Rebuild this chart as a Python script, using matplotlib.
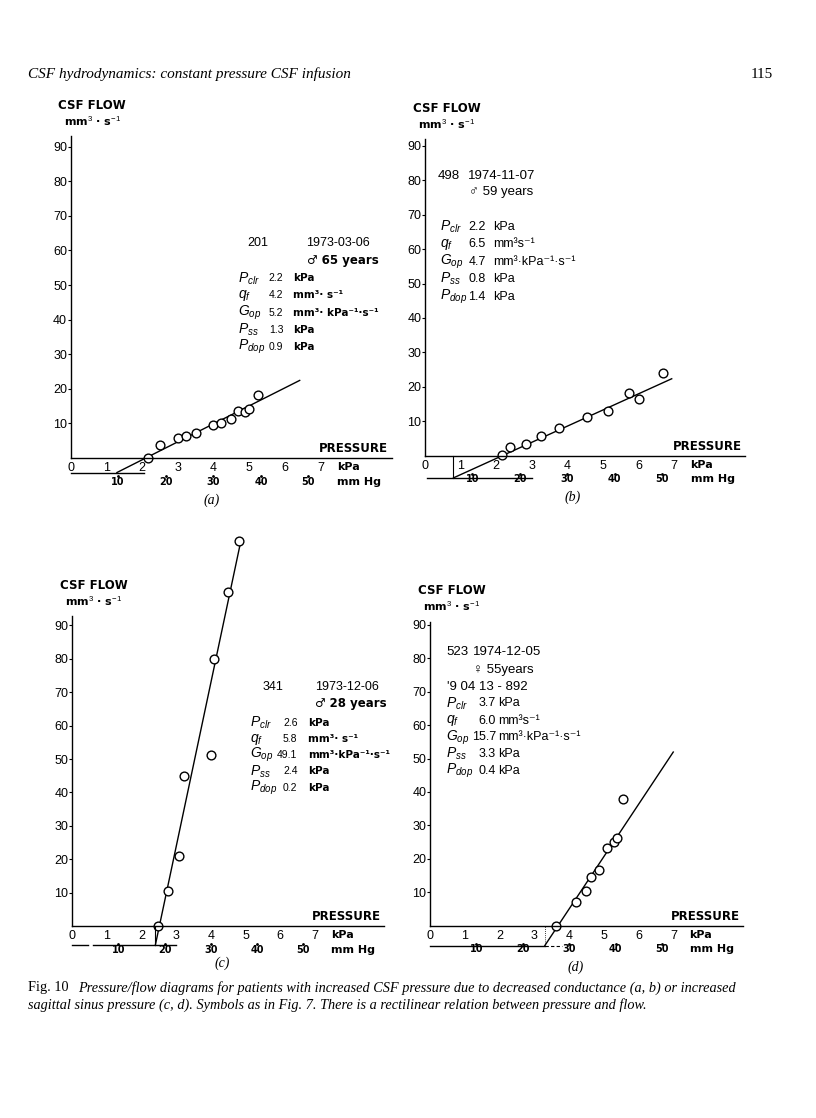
import matplotlib
matplotlib.use("Agg")
import matplotlib.pyplot as plt
from matplotlib import font_manager
from matplotlib.transforms import offset_copy

a_pressure = [2.16, 2.51, 3.0, 3.24, 3.52, 3.98, 4.22, 4.49, 4.7, 4.89, 4.99, 5.24]
a_flow = [0, 3.7, 5.9, 6.4, 7.3, 9.5, 10.2, 11.3, 13.6, 13.3, 14.3, 18.3]
b_pressure = [2.15, 2.39, 2.84, 3.26, 3.76, 4.54, 5.13, 5.72, 6.02, 6.69]
b_flow = [0.2, 2.4, 3.4, 5.8, 8.0, 11.2, 13.0, 18.2, 16.3, 23.9]
c_pressure = [2.49, 2.76, 3.09, 3.22, 4.0, 4.1, 4.5, 4.81]
c_flow = [0, 10.5, 21, 44.9, 51.1, 79.8, 100, 115.3]
d_pressure = [3.62, 4.2, 4.49, 4.63, 4.87, 5.08, 5.29, 5.38, 5.56]
d_flow = [0, 7.1, 10.2, 14.6, 16.6, 23.1, 24.9, 26.3, 38.0]

# parameters: Pclr, qf, Gop, Pss, Pdop
a_params = [2.2, 4.2, 5.2, 1.3, 0.9]
b_params = [2.2, 6.5, 4.7, 0.8, 1.4]
c_params = [2.6, 5.8, 49.1, 2.4, 0.2]
d_params = [3.7, 6.0, 15.7, 3.3, 0.4]
# where the drawn regression line stops (kPa)
a_end, b_end, c_end, d_end = 6.42, 6.93, 4.86, 6.99

kpa_ticks = [0, 1, 2, 3, 4, 5, 6, 7]
flow_ticks = [10, 20, 30, 40, 50, 60, 70, 80, 90]
mmhg_ticks = [10, 20, 30, 40, 50]
symbols = [r'$P_{clr}$', r'$q_f$', r'$G_{op}$', r'$P_{ss}$', r'$P_{dop}$']

W, H = 816, 1118
names = set(font_manager.get_font_names())
NARROW = 'Liberation Sans Narrow' if 'Liberation Sans Narrow' in names else 'DejaVu Sans'
SANS = 'Liberation Sans'
SERIF = 'Liberation Serif'
plt.rcParams['font.family'] = [SANS, 'DejaVu Sans']
plt.rcParams['mathtext.fontset'] = 'custom'
plt.rcParams['mathtext.it'] = 'Liberation Sans:italic'
plt.rcParams['mathtext.rm'] = 'Liberation Sans'

fig = plt.figure(figsize=(W / 100, H / 100), dpi=100)
fig.patch.set_facecolor('white')


def make_panel(x0, y0, sx, sy, ytop, ymax, p, q, params, p_end):
    # x0,y0 = pixel of the origin, sx,sy = pixels per unit
    xmin, xmax, ymin = 0, 9.0, -8
    ax = fig.add_axes([(x0 + xmin * sx) / W, 1 - (y0 - ymin * sy) / H,
                       (xmax - xmin) * sx / W, (ymax - ymin) * sy / H])
    ax.set_xlim(xmin, xmax)
    ax.set_ylim(ymin, ymax)
    ax.patch.set_alpha(0)
    for s in ['top', 'right']:
        ax.spines[s].set_visible(False)
    ax.spines['left'].set_position(('data', 0))
    ax.spines['bottom'].set_position(('data', 0))
    ax.spines['left'].set_bounds(0, ytop)
    ax.spines['left'].set_linewidth(1.0)
    ax.spines['bottom'].set_linewidth(1.0)
    ax.set_xticks(kpa_ticks)
    ax.set_yticks(flow_ticks)
    ax.tick_params(axis='x', length=0, pad=3, labelsize=9)
    ax.tick_params(axis='y', length=2, width=0.8, pad=0.5, labelsize=9)

    pclr, qf, gop, pss, pdop = params
    ax.plot([pss, p_end], [-qf, -qf + gop * (p_end - pss)], color='k', lw=1.0, clip_on=False)
    ax.plot(p, q, ls='none', marker='o', ms=6.3, mfc='white', mec='k', mew=1.0, clip_on=False)

    # secondary mm Hg scale
    mm = [v / 7.50062 for v in mmhg_ticks]
    tr_lab = offset_copy(ax.transData, fig=fig, x=0, y=-24, units='dots')
    tr_dot = offset_copy(ax.transData, fig=fig, x=0, y=-18, units='dots')
    for v, x in zip(mmhg_ticks, mm):
        ax.text(x, 0, str(v), transform=tr_lab, ha='center', va='center',
                fontsize=7, fontfamily=NARROW, fontweight='bold')
    ax.plot(mm, [0] * len(mm), ls='none', marker='.', ms=2, color='k',
            transform=tr_dot, clip_on=False)
    ax.text(7.46, 0, 'kPa', transform=offset_copy(ax.transData, fig=fig, y=-9, units='dots'),
            ha='left', va='center', fontsize=8, fontfamily=NARROW, fontweight='bold')
    ax.text(7.46, 0, 'mm Hg', transform=tr_lab, ha='left', va='center',
            fontsize=8, fontfamily=NARROW, fontweight='bold')
    ax.text(8.9, 0, 'PRESSURE', transform=offset_copy(ax.transData, fig=fig, y=9, units='dots'),
            ha='right', va='center', fontsize=8.5, fontfamily=NARROW, fontweight='bold')
    ax.text(0, ytop, 'CSF FLOW', transform=offset_copy(ax.transData, fig=fig, x=-12, y=31, units='dots'),
            ha='left', va='center', fontsize=8.5, fontfamily=NARROW, fontweight='bold')
    ax.text(0, ytop, 'mm$^3$ · s$^{-1}$', transform=offset_copy(ax.transData, fig=fig, x=-7, y=15, units='dots'),
            ha='left', va='center', fontsize=8, fontfamily=NARROW, fontweight='bold')
    return ax


# ---------- (a)
ax = make_panel(70.5, 458, 35.7, 3.46, 93, 95, a_pressure, a_flow, a_params, a_end)
ax.plot([0, 2.05], [-a_params[1]] * 2, color='k', lw=1.0, clip_on=False)
ax.text(5.26, 62.0, '201', ha='center', va='center', fontsize=9)
ax.text(7.49, 62.0, '1973-03-06', ha='center', va='center', fontsize=9)
ax.text(8.64, 57.2, '♂ 65 years', ha='right', va='center', fontsize=8.5,
        fontfamily=[NARROW, 'DejaVu Sans'], fontweight='bold')
units_a = ['kPa', 'mm³· s⁻¹', 'mm³· kPa⁻¹·s⁻¹', 'kPa', 'kPa']
for yy, s, v, u in zip([51.9, 47.0, 42.0, 37.0, 32.0], symbols, a_params, units_a):
    ax.text(4.70, yy, s, ha='left', va='center', fontsize=10)
    ax.text(5.96, yy, f'{v:.1f}', ha='right', va='center', fontsize=7.5)
    ax.text(6.24, yy, u, ha='left', va='center', fontsize=7.5,
            fontfamily=[NARROW, 'DejaVu Sans'], fontweight='bold')

# ---------- (b)
ax = make_panel(425, 455.5, 35.6, 3.44, 92, 95, b_pressure, b_flow, b_params, b_end)
ax.plot([0.05, 3.0], [-b_params[1]] * 2, color='k', lw=1.0, clip_on=False)
ax.plot([b_params[3]] * 2, [-b_params[1], 0], color='k', lw=0.8, clip_on=False)
ax.text(0.68, 81.3, '498', ha='center', va='center', fontsize=9.5)
ax.text(2.15, 81.3, '1974-11-07', ha='center', va='center', fontsize=9.5)
ax.text(2.15, 76.5, '♂ 59 years', ha='center', va='center', fontsize=9.5,
        fontfamily=[SANS, 'DejaVu Sans'])
units_b = ['kPa', 'mm³s⁻¹', 'mm³·kPa⁻¹·s⁻¹', 'kPa', 'kPa']
for yy, s, v, u in zip([66.5, 61.4, 56.3, 51.3, 46.2], symbols, b_params, units_b):
    ax.text(0.42, yy, s, ha='left', va='center', fontsize=10)
    ax.text(1.71, yy, f'{v:.1f}', ha='right', va='center', fontsize=9)
    ax.text(1.92, yy, u, ha='left', va='center', fontsize=9)

# ---------- (c)
ax = make_panel(72, 926, 34.7, 3.34, 92.8, 118, c_pressure, c_flow, c_params, c_end)
ax.plot([0, 0.47], [-c_params[1]] * 2, color='k', lw=1.0, clip_on=False)
ax.plot([0.6, 3.0], [-c_params[1]] * 2, color='k', lw=1.0, clip_on=False)
ax.plot([c_params[3]] * 2, [-c_params[1], 0], color='k', lw=0.8, clip_on=False)
ax.text(5.8, 71.5, '341', ha='center', va='center', fontsize=9)
ax.text(7.92, 71.5, '1973-12-06', ha='center', va='center', fontsize=9)
ax.text(9.07, 66.5, '♂ 28 years', ha='right', va='center', fontsize=8.5,
        fontfamily=[NARROW, 'DejaVu Sans'], fontweight='bold')
units_c = ['kPa', 'mm³· s⁻¹', 'mm³·kPa⁻¹·s⁻¹', 'kPa', 'kPa']
for yy, s, v, u in zip([60.9, 55.9, 51.1, 46.3, 41.3], symbols, c_params, units_c):
    ax.text(5.12, yy, s, ha='left', va='center', fontsize=10)
    ax.text(6.5, yy, f'{v:.1f}', ha='right', va='center', fontsize=7.5)
    ax.text(6.8, yy, u, ha='left', va='center', fontsize=7.5,
            fontfamily=[NARROW, 'DejaVu Sans'], fontweight='bold')

# ---------- (d)
ax = make_panel(430, 925.5, 34.8, 3.34, 91, 95, d_pressure, d_flow, d_params, d_end)
ax.plot([0, d_params[3]], [-d_params[1]] * 2, color='k', lw=1.0, clip_on=False)
ax.plot([d_params[3], 3.78], [-d_params[1]] * 2, color='k', lw=0.8, ls=(0, (3, 2)), clip_on=False)
ax.plot([d_params[3]] * 2, [-d_params[1], 0], color='k', lw=0.6, ls=(0, (1, 1.5)), clip_on=False)
ax.text(0.46, 82.0, '523', ha='left', va='center', fontsize=9.5)
ax.text(1.24, 82.0, '1974-12-05', ha='left', va='center', fontsize=9.5)
ax.text(1.24, 76.5, '♀ 55years', ha='left', va='center', fontsize=9.5,
        fontfamily=[SANS, 'DejaVu Sans'])
ax.text(0.48, 71.5, "'9 04 13 - 892", ha='left', va='center', fontsize=9.5)
units_d = ['kPa', 'mm³s⁻¹', 'mm³·kPa⁻¹·s⁻¹', 'kPa', 'kPa']
for yy, s, v, u in zip([66.5, 61.3, 56.3, 51.3, 46.3], symbols, d_params, units_d):
    ax.text(0.46, yy, s, ha='left', va='center', fontsize=10)
    ax.text(1.9, yy, f'{v:.1f}', ha='right', va='center', fontsize=9)
    ax.text(1.97, yy, u, ha='left', va='center', fontsize=9)

# panel letters
for lab, px, py in [('(a)', 212, 500), ('(b)', 573, 497), ('(c)', 222, 963), ('(d)', 576, 967)]:
    fig.text(px / W, 1 - py / H, lab, ha='center', va='center', fontsize=10,
             fontfamily=SERIF, style='italic')

# page header and caption
fig.text(28 / W, 1 - 74 / H, 'CSF hydrodynamics: constant pressure CSF infusion',
         ha='left', va='center', fontsize=11, fontfamily=SERIF, style='italic')
fig.text(762 / W, 1 - 74 / H, '115', ha='center', va='center', fontsize=11, fontfamily=SERIF)
fig.text(28 / W, 1 - 988 / H, 'Fig. 10', ha='left', va='center', fontsize=10.3, fontfamily=SERIF)
fig.text(78 / W, 1 - 988 / H,
         'Pressure/flow diagrams for patients with increased CSF pressure due to decreased '
         'conductance (a, b) or increased',
         ha='left', va='center', fontsize=10.3, fontfamily=SERIF, style='italic')
fig.text(28 / W, 1 - 1005 / H,
         'sagittal sinus pressure (c, d). Symbols as in Fig. 7. There is a rectilinear '
         'relation between pressure and flow.',
         ha='left', va='center', fontsize=10.3, fontfamily=SERIF, style='italic')

fig.savefig('out.png', dpi=100)
